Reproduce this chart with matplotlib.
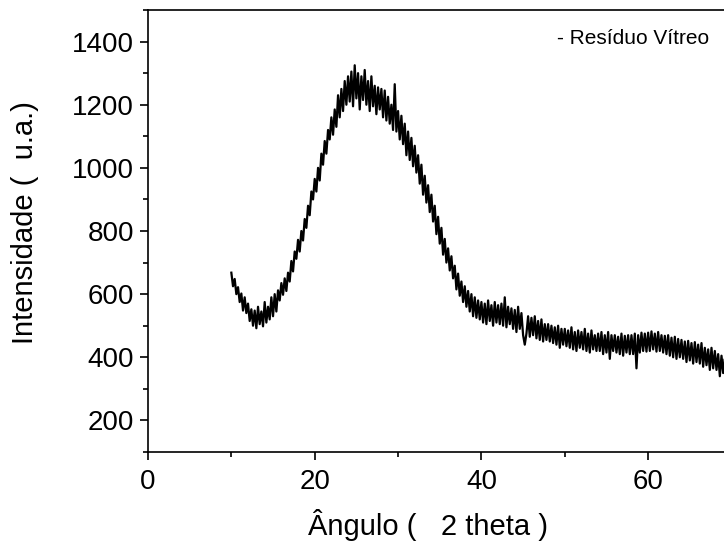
import numpy as np
import matplotlib.pyplot as plt
from matplotlib.ticker import MultipleLocator

plt.rcParams['font.family'] = ['Liberation Sans', 'DejaVu Sans']

# ==========================
# Data (read from the pattern, 0.2 deg step)
# ==========================

two_theta = np.round(np.arange(10.0, 69.9, 0.2), 1)

intensity = [
    668, 625, 648, 600, 622, 575, 602, 548, 590, 540,          # 10-12
    570, 515, 552, 500, 548, 492, 560, 505, 545, 498,          # 12-14
    575, 510, 560, 520, 590, 530, 600, 545, 612, 580,          # 14-16
    635, 598, 650, 610, 668, 640, 705, 672, 735, 712,          # 16-18
    772, 735, 800, 770, 838, 810, 880, 850, 925, 900,          # 18-20
    965, 925, 1000, 960, 1045, 1010, 1085, 1045, 1120, 1090,   # 20-22
    1160, 1105, 1185, 1130, 1230, 1160, 1250, 1180, 1275, 1200,  # 22-24
    1290, 1210, 1305, 1195, 1325, 1220, 1300, 1185, 1290, 1215,  # 24-26
    1310, 1200, 1275, 1180, 1290, 1195, 1260, 1170, 1255, 1185,  # 26-28
    1250, 1160, 1245, 1150, 1225, 1140, 1200, 1120, 1265, 1115,  # 28-30
    1180, 1090, 1165, 1075, 1140, 1040, 1115, 1025, 1095, 1005,  # 30-32
    1070, 985, 1040, 950, 1010, 915, 975, 890, 945, 860,       # 32-34
    915, 830, 880, 790, 845, 760, 810, 725, 775, 700,          # 34-36
    745, 675, 720, 650, 690, 615, 665, 595, 640, 575,          # 36-38
    625, 560, 610, 545, 600, 530, 590, 525, 580, 520,          # 38-40
    575, 510, 570, 505, 580, 515, 565, 500, 575, 510,          # 40-42
    565, 505, 570, 500, 590, 495, 560, 505, 555, 490,          # 42-44
    550, 480, 560, 490, 540, 470, 440, 475, 530, 465,          # 44-46
    525, 470, 530, 460, 515, 455, 520, 450, 505, 455,          # 46-48
    505, 450, 500, 445, 495, 440, 500, 430, 490, 440,          # 48-50
    490, 435, 485, 430, 495, 425, 480, 420, 485, 430,          # 50-52
    480, 425, 490, 420, 475, 415, 485, 425, 470, 420,          # 52-54
    475, 420, 480, 410, 470, 415, 480, 395, 470, 420,          # 54-56
    470, 415, 465, 410, 475, 405, 468, 415, 470, 410,          # 56-58
    470, 410, 475, 365, 470, 415, 478, 420, 475, 418,          # 58-60
    478, 420, 482, 425, 475, 418, 480, 420, 470, 415,          # 60-62
    468, 410, 470, 405, 462, 400, 465, 395, 458, 400,          # 62-64
    455, 395, 450, 385, 452, 390, 445, 380, 448, 385,          # 64-66
    440, 380, 445, 370, 430, 375, 425, 360, 430, 365,          # 66-68
    420, 360, 410, 340, 405, 350, 395, 330, 390, 345,          # 68-70
]

x_ticks = [0, 20, 40, 60]
y_ticks = [200, 400, 600, 800, 1000, 1200, 1400]

# ==========================
# Chart
# ==========================

fig = plt.figure(figsize=(7.24, 5.5), dpi=100)
ax = fig.add_axes([0.2044, 0.1782, 0.7956, 0.8036])

ax.plot(two_theta, intensity, color="black", linewidth=1.6)

ax.set_xlim(0, 69.1)
ax.set_ylim(100, 1500)
ax.set_xticks(x_ticks)
ax.set_yticks(y_ticks)
ax.xaxis.set_minor_locator(MultipleLocator(10))
ax.yaxis.set_minor_locator(MultipleLocator(100))

ax.tick_params(which="major", direction="out", length=6, width=1.2,
               labelsize=20, pad=4)
ax.tick_params(axis="x", which="major", pad=6)
ax.tick_params(which="minor", direction="out", length=3.5, width=1.2)
ax.tick_params(axis="x", which="both", top=False)

for side in ["left", "bottom", "top"]:
    ax.spines[side].set_linewidth(1.2)
ax.spines["right"].set_visible(False)

ax.set_xlabel("Ângulo (   2 theta )", fontsize=21)
ax.set_ylabel("Intensidade (  u.a.)", fontsize=21)
ax.xaxis.set_label_coords(0.486, -0.165)
ax.xaxis.label.set_va("center")
ax.yaxis.set_label_coords(-0.2135, 0.52)
ax.yaxis.label.set_va("center")

ax.text(0.975, 0.935, "- Resíduo Vítreo", transform=ax.transAxes,
        ha="right", va="center", fontsize=15)

fig.savefig("out.png", dpi=100)
